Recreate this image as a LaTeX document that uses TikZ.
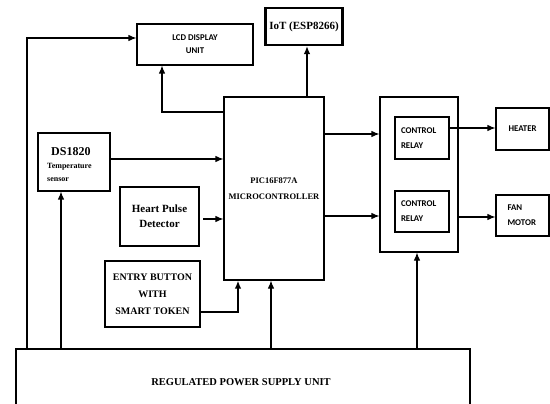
\documentclass[tikz,border=0pt]{standalone}
\usepackage{fontspec}
\setmainfont{Liberation Serif}
\newfontfamily\calib{Carlito}
\usetikzlibrary{arrows.meta}
\begin{document}
\begin{tikzpicture}[x=1pt,y=-1pt,
  box/.style={draw,line width=1.1pt,rectangle,inner sep=0pt,align=center},
  tbox/.style={draw,line width=2.4pt,rectangle,inner sep=0pt,align=center},
  arr/.style={line width=1.1pt,-{Latex[length=8pt,width=6.5pt]}},
  tarr/.style={line width=2.2pt,-{Latex[length=8pt,width=6.5pt]}},
  sans/.style={font=\calib\bfseries\fontsize{8.8}{13}\selectfont},
  serif/.style={font=\bfseries}]
\useasboundingbox (0,0) rectangle (550,404);
\fill[white] (0,0) rectangle (550,404);

\node[box,sans,minimum width=116pt,minimum height=41pt] (lcd) at (195,44.5) {LCD DISPLAY\\UNIT};
\node[tbox,serif,font=\bfseries\fontsize{11}{13}\selectfont,minimum width=77pt,minimum height=37pt] (iot) at (304,26.5) {IoT (ESP8266)};
\node[box,serif,font=\bfseries\fontsize{8.5}{16}\selectfont,minimum width=100pt,minimum height=183pt] (mcu) at (274,188.5) {PIC16F877A\\MICROCONTROLLER};
\node[box,minimum width=78pt,minimum height=155pt] (rbox) at (419,174.5) {};
\node[box,sans,align=left,minimum width=54pt,minimum height=42pt,text width=42pt,font=\calib\bfseries\fontsize{8.8}{15}\selectfont] (cr1) at (422,138) {CONTROL\\RELAY};
\node[box,sans,align=left,minimum width=54pt,minimum height=41pt,text width=42pt,font=\calib\bfseries\fontsize{8.8}{15}\selectfont] (cr2) at (422,211.5) {CONTROL\\RELAY};
\node[box,sans,minimum width=53pt,minimum height=42pt] (heater) at (522.5,129) {HEATER};
\node[box,sans,align=left,minimum width=53pt,minimum height=41pt,text width=30pt,font=\calib\bfseries\fontsize{8.8}{15}\selectfont] (fan) at (522.5,215.5) {FAN\\MOTOR};
\node[box,minimum width=72pt,minimum height=58pt] (ds) at (74,162) {};
\node[anchor=north west,inner sep=0pt,align=left,font=\bfseries\fontsize{8}{13}\selectfont] (dst) at (47,147) {\hspace*{4pt}{\fontsize{12}{14}\selectfont DS1820}\\Temperature\\sensor};
\node[tbox,font=\bfseries\fontsize{11}{15}\selectfont,minimum width=79pt,minimum height=59pt] (heart) at (159.5,216.5) {Heart Pulse\\Detector};
\node[tbox,font=\bfseries\fontsize{10}{17}\selectfont,minimum width=95pt,minimum height=66pt] (entry) at (152.5,294) {ENTRY BUTTON\\WITH\\SMART TOKEN};
\node[box,minimum width=454pt,minimum height=60pt] (psu) at (243,379) {};
\node[font=\bfseries\fontsize{10.5}{12}\selectfont,inner sep=0pt] (psut) at (241,382) {REGULATED POWER SUPPLY UNIT};

\draw[arr] (psu.north -| 27,0) |- (lcd.west |- 0,38);
\draw[arr] (mcu.west |- 0,112) -| (lcd.south -| 162,0);
\draw[arr] (mcu.north -| 307,0) -- (iot.south -| 307,0);
\draw[arr] (ds.east |- 0,159) -- (mcu.west |- 0,159);
\draw[arr] ([xshift=3pt]heart.east |- 0,219) -- (mcu.west |- 0,219);
\draw[tarr] (entry.east |- 0,312) -| (mcu.south -| 238,0);
\draw[arr] (psu.north -| 271,0) -- (mcu.south -| 271,0);
\draw[arr] (psu.north -| 61,0) -- (ds.south -| 61,0);
\draw[arr] (psu.north -| 417,0) -- (rbox.south -| 417,0);
\draw[arr] (mcu.east |- 0,134) -- (rbox.west |- 0,134);
\draw[arr] (mcu.east |- 0,216) -- (rbox.west |- 0,216);
\draw[arr] (cr1.east |- 0,128) -- (heater.west |- 0,128);
\draw[arr] (rbox.east |- 0,217) -- (fan.west |- 0,217);
\end{tikzpicture}
\end{document}
